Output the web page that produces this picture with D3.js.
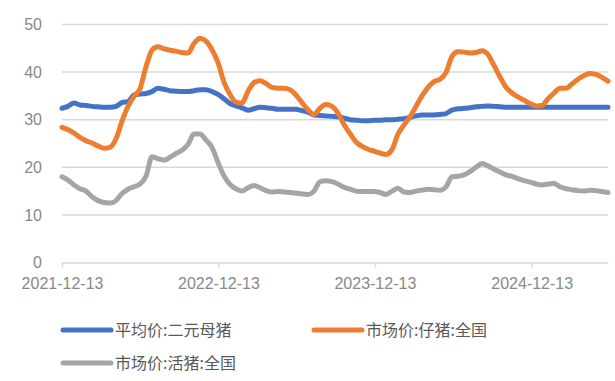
<!DOCTYPE html>
<html>
<head>
<meta charset="utf-8">
<script src="https://cdn.jsdelivr.net/npm/d3@7"></script>
<style>
  body { margin: 0; background: #fff; }
  svg text { font-family: "Noto Sans CJK SC", "Noto Sans", sans-serif; }
  svg .axis text { font-family: "Liberation Sans", Arial, sans-serif; }
</style>
</head>
<body>
<div id="chart"></div>
<script>
// biweekly observations starting 2021-12-13
const startDate = "2021-12-13";
const stepDays = 14;

const sowPrice = [
    32.4, 32.8, 33.5, 33.1, 33.0, 32.8, 32.7, 32.6, 32.6, 32.8,
    33.6, 33.8, 35.2, 35.4, 35.5, 35.9, 36.6, 36.4, 36.1, 36.0,
    35.9, 35.9, 36.1, 36.3, 36.3, 35.9, 35.3, 34.4, 33.4, 32.9,
    32.5, 32.0, 32.3, 32.6, 32.5, 32.4, 32.2, 32.2, 32.2, 32.2,
    31.9, 31.6, 31.0, 30.9, 30.8, 30.7, 30.6, 30.3, 30.0, 29.9,
    29.8, 29.8, 29.9, 29.9, 30.0, 30.0, 30.1, 30.2, 30.5, 30.8,
    31.0, 31.0, 31.0, 31.1, 31.3, 32.0, 32.3, 32.4, 32.5, 32.7,
    32.8, 32.9, 32.8, 32.7, 32.6, 32.6, 32.6, 32.6, 32.6, 32.6,
    32.6, 32.6, 32.6, 32.6, 32.6, 32.6, 32.6, 32.6, 32.6, 32.6,
    32.6, 32.6
];

const pigletPrice = [
    28.4, 27.9, 27.2, 26.3, 25.6, 25.1, 24.5, 24.0, 24.2, 26.0,
    29.7, 32.8, 34.9, 36.5, 41.1, 44.6, 45.3, 44.9, 44.6, 44.4,
    44.1, 44.0, 46.0, 47.1, 46.5, 44.7, 42.0, 37.9, 35.3, 33.7,
    33.5, 36.0, 37.8, 38.2, 37.6, 36.8, 36.6, 36.6, 36.3, 35.2,
    33.6, 32.1, 31.1, 32.4, 33.2, 32.8, 31.4, 29.0, 27.1, 25.3,
    24.4, 23.8, 23.4, 23.0, 22.7, 23.7, 27.0, 28.9, 30.6, 32.8,
    35.0, 36.8, 38.0, 38.5, 39.9, 43.3, 44.3, 44.2, 44.0, 44.1,
    44.5, 43.7, 41.4, 39.0, 36.8, 35.6, 34.8, 34.1, 33.4, 32.9,
    33.0, 34.4, 35.6, 36.6, 36.6, 37.5, 38.5, 39.3, 39.7, 39.5,
    38.9, 38.1
];

const hogPrice = [
    18.0, 17.3, 16.3, 15.5, 15.0, 13.8, 13.0, 12.6, 12.5, 13.0,
    14.5, 15.4, 15.9, 16.5, 18.1, 22.2, 21.8, 21.5, 22.1, 22.9,
    23.6, 24.8, 27.0, 27.0, 25.7, 24.2, 21.0, 18.2, 16.4, 15.5,
    15.0, 15.7, 16.2, 15.7, 15.1, 14.8, 14.9, 14.8, 14.7, 14.6,
    14.4, 14.3, 15.0, 17.0, 17.2, 17.0, 16.5, 15.8, 15.4, 15.0,
    14.9, 14.9, 14.9, 14.7, 14.3, 15.0, 15.6, 14.8, 14.7, 15.0,
    15.2, 15.4, 15.3, 15.2, 15.9, 18.0, 18.1, 18.4, 19.1, 20.0,
    20.8, 20.3, 19.6, 19.0, 18.4, 18.1, 17.6, 17.2, 16.9, 16.5,
    16.3, 16.5, 16.6, 15.9, 15.5, 15.3, 15.1, 15.0, 15.2, 15.1,
    14.9, 14.7
];

const tickDates = ["2021-12-13", "2022-12-13", "2023-12-13", "2024-12-13"];
const yTicks = [0, 10, 20, 30, 40, 50];

const seriesNames = ["平均价:二元母猪", "市场价:仔猪:全国", "市场价:活猪:全国"];
const seriesColors = ["#4472c4", "#ed7d31", "#a5a5a5"];

const width = 615;
const height = 381;
const margin = { top: 24.5, right: 7, bottom: 118.5, left: 62 };

const parse = d3.timeParse("%Y-%m-%d");
const t0 = parse(startDate);
const dates = sowPrice.map((_, i) => d3.timeDay.offset(t0, i * stepDays));

const series = [sowPrice, pigletPrice, hogPrice].map((vals, k) => ({
    name: seriesNames[k],
    color: seriesColors[k],
    values: vals.map((v, i) => ({ date: dates[i], value: v }))
}));

const svg = d3.select("#chart")
    .append("svg")
    .attr("width", width)
    .attr("height", height);

const x = d3.scaleTime()
    .domain([dates[0], dates[dates.length - 1]])
    .range([margin.left, width - margin.right]);

const y = d3.scaleLinear()
    .domain([0, 50])
    .range([height - margin.bottom, margin.top]);

// gridlines
svg.append("g")
    .selectAll("line")
    .data(yTicks.filter(d => d > 0))
    .enter().append("line")
    .attr("x1", margin.left)
    .attr("x2", width - margin.right)
    .attr("y1", d => y(d))
    .attr("y2", d => y(d))
    .attr("stroke", "#d9d9d9")
    .attr("stroke-width", 1.5);

// y axis labels
const yAxis = svg.append("g")
    .attr("class", "axis")
    .attr("transform", `translate(${margin.left},0)`)
    .call(d3.axisLeft(y).tickValues(yTicks).tickSize(0).tickPadding(20));
yAxis.select(".domain").remove();
yAxis.selectAll("text")
    .attr("fill", "#898989")
    .style("font-size", "16px");

// x axis
const xAxis = svg.append("g")
    .attr("class", "axis")
    .attr("transform", `translate(0,${y(0)})`)
    .call(d3.axisBottom(x)
        .tickValues(tickDates.map(parse))
        .tickFormat(d3.timeFormat("%Y-%m-%d"))
        .tickSizeInner(5)
        .tickSizeOuter(0)
        .tickPadding(10));
xAxis.select(".domain")
    .attr("stroke", "#d9d9d9")
    .attr("stroke-width", 1.5);
xAxis.selectAll(".tick line")
    .attr("stroke", "#d9d9d9")
    .attr("stroke-width", 1.5);
xAxis.selectAll("text")
    .attr("fill", "#898989")
    .style("font-size", "16px");

const line = d3.line()
    .x(d => x(d.date))
    .y(d => y(d.value))
    .curve(d3.curveMonotoneX);

svg.append("g")
    .selectAll("path")
    .data(series)
    .enter().append("path")
    .attr("d", d => line(d.values))
    .attr("fill", "none")
    .attr("stroke", d => d.color)
    .attr("stroke-width", 5)
    .attr("stroke-linejoin", "round")
    .attr("stroke-linecap", "round");

// legend
const legendPos = [
    { x: 62, y: 330 },
    { x: 313, y: 330 },
    { x: 62, y: 363 }
];

const legend = svg.append("g")
    .selectAll("g")
    .data(series)
    .enter().append("g")
    .attr("transform", (d, i) => `translate(${legendPos[i].x},${legendPos[i].y})`);

legend.append("line")
    .attr("x1", 1)
    .attr("x2", 49)
    .attr("stroke", d => d.color)
    .attr("stroke-width", 5)
    .attr("stroke-linecap", "round");

legend.append("text")
    .attr("x", 53)
    .attr("dy", "0.36em")
    .attr("fill", "#595959")
    .style("font-size", "16px")
    .text(d => d.name);
</script>
</body>
</html>
